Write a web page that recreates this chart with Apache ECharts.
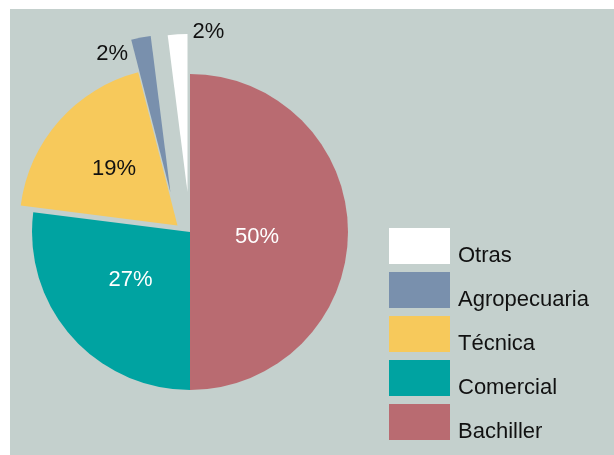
<!DOCTYPE html>
<html>
<head>
<meta charset="utf-8">
<script src="https://cdn.jsdelivr.net/npm/echarts@6/dist/echarts.min.js"></script>
<style>
    body { margin: 0; background: #ffffff; }
    #chart { position: absolute; left: 10px; top: 9px; width: 604px; height: 446px; }
</style>
</head>
<body>
<div id="chart"></div>
<script>
    // data
    const categories = ['Bachiller', 'Comercial', 'Técnica', 'Agropecuaria', 'Otras'];
    const values = [50, 27, 19, 2, 2];
    const legendOrder = ['Otras', 'Agropecuaria', 'Técnica', 'Comercial', 'Bachiller'];

    const colors = ['#b96b71', '#00a3a1', '#f7c95b', '#7990ad', '#ffffff'];
    const labelColors = ['#ffffff', '#ffffff', '#111111', '#111111', '#111111'];
    const font = 'Liberation Sans, Arial, Helvetica, sans-serif';

    // one pie per slice so each can have its own explode distance / label nudge
    const groups = [
        {show: 'Bachiller', offset: 0, shiftX: 0, dx: -15, dy: 5},
        {show: 'Comercial', offset: 0, shiftX: 0, dx: 2, dy: -6},
        {show: 'Técnica', offset: 10, shiftX: -5, dx: -2, dy: -2},
        {show: 'Agropecuaria', offset: 40, shiftX: -12, dx: -43, dy: -58},
        {show: 'Otras', offset: 40, shiftX: 0, dx: 26, dy: -78}
    ];

    const chart = echarts.init(document.getElementById('chart'));

    const series = groups.map(g => ({
        type: 'pie',
        center: [180 + g.shiftX, 223],
        radius: 158,
        startAngle: 90,
        silent: true,
        animation: false,
        selectedMode: 'multiple',
        selectedOffset: g.offset,
        labelLayout: {dx: g.dx, dy: g.dy},
        labelLine: {show: false},
        data: categories.map((name, i) => {
            const visible = name === g.show;
            return {
                name: name,
                value: values[i],
                selected: visible && g.offset > 0,
                itemStyle: {color: visible ? colors[i] : 'transparent'},
                label: {
                    show: visible,
                    position: 'inside',
                    formatter: '{c}%',
                    color: labelColors[i],
                    fontFamily: font,
                    fontSize: 22
                }
            };
        })
    }));

    chart.setOption({
        backgroundColor: '#c4d0cd',
        legend: {
            orient: 'vertical',
            left: 379,
            top: 216,
            padding: 0,
            icon: 'rect',
            itemWidth: 61,
            itemHeight: 36,
            itemGap: 2,
            selectedMode: false,
            // empty first line pushes the name down toward the bottom of the box
            formatter: name => '\n' + name,
            data: legendOrder.map(name => ({
                name: name,
                itemStyle: {color: colors[categories.indexOf(name)]}
            })),
            textStyle: {
                fontFamily: font,
                fontSize: 22,
                color: '#111111',
                lineHeight: 20,
                padding: [0, 0, 0, 3]
            }
        },
        series: series
    });
</script>
</body>
</html>
